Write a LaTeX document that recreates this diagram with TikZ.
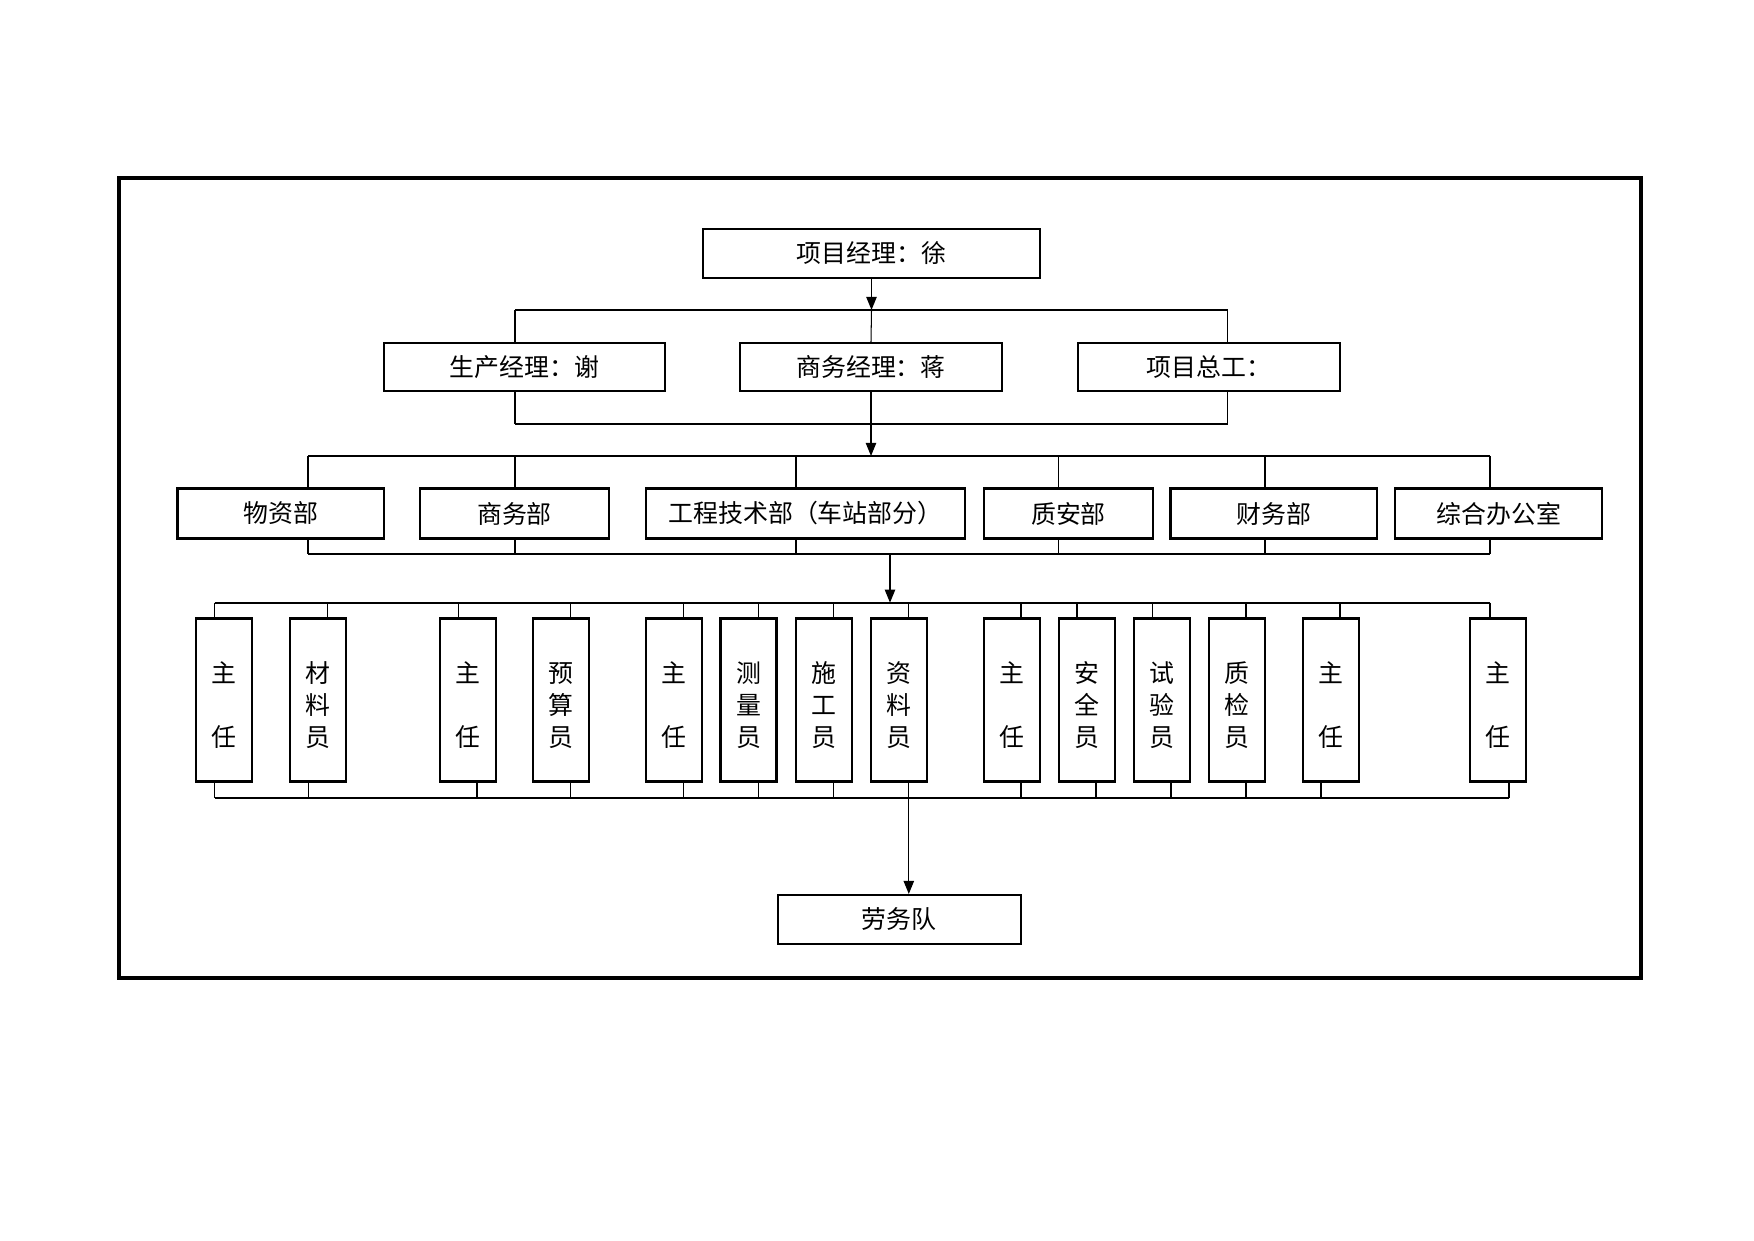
\documentclass[tikz,border=0pt]{standalone}
\usepackage{fontspec}
\setmainfont{Noto Sans CJK SC}
\usetikzlibrary{arrows.meta}
\usetikzlibrary{calc}
\def\pix{0.1693mm}
\tikzset{x=0.1693mm, y=-0.1693mm,
every node/.style={font=\fontsize{12pt}{15.5pt}\selectfont},
box/.style={ % boxes with one line of text
draw, line width=1pt, inner sep=0pt,
minimum height=49*\pix},
post/.style={ % tall boxes, text set upright
draw, line width=1pt, inner sep=0pt, align=center,
minimum width=56*\pix, minimum height=163*\pix},
link/.style={line width=0.5pt}, % thin drops
bus/.style={line width=1pt}, % heavy horizontal lines
down/.style={line width=0.6pt, -{Triangle[length=6.3pt,width=5pt]}}}

\begin{document}
\begin{tikzpicture}
\useasboundingbox (0,0) rectangle (1754,1241);
\draw[line width=1.5pt] (119,178) rectangle (1641,978);

% managers
\node[box, minimum width=337*\pix] (pm) at (871.5,253.5) {项目经理：徐};
\node[box, minimum width=281*\pix, minimum height=48*\pix] (prod) at (524.5,367) {生产经理：谢};
\node[box, minimum width=262*\pix, minimum height=48*\pix] (biz) at (871,367) {商务经理：蒋};
\node[box, minimum width=262*\pix, minimum height=48*\pix] (chief) at (1209,367) {项目总工：};

\coordinate (b2l) at (515,310);
\coordinate (b2r) at (1227.6,310);
\coordinate (b2bl) at (515,424);
\coordinate (b2br) at (1227.6,424);
\draw[down] (pm.south) -- (pm.south |- b2l);
\draw[link] (b2l) -- (b2r);
\draw[link] (b2l) -- (b2l |- prod.north);
\draw[link] (pm.south |- b2l) -- (biz.north);
\draw[link] (b2r) -- (b2r |- chief.north);
\draw[link] (b2l |- prod.south) -- (b2bl);
\draw[link] (b2r |- chief.south) -- (b2br);
\draw[bus] (b2bl) -- (b2br);

% departments
\node[box, minimum width=206.5*\pix, minimum height=50*\pix] (wz) at (280.75,513.5) {物资部};
\node[box, minimum width=189*\pix, minimum height=50*\pix] (sw) at (514.5,513.5) {商务部};
\node[box, minimum width=319*\pix, minimum height=50*\pix] (gc) at (805.5,513.5) {工程技术部（车站部分）};
\node[box, minimum width=169*\pix, minimum height=50*\pix] (za) at (1068.5,513.5) {质安部};
\node[box, minimum width=206.5*\pix, minimum height=50*\pix] (cw) at (1273.75,513.5) {财务部};
\node[box, minimum width=206.6*\pix, minimum height=50*\pix] (zh) at (1498.7,513.5) {综合办公室};

\coordinate (b3l) at (308,456);
\coordinate (b3r) at (1490,456);
\coordinate (b3bl) at (308,553.7);
\coordinate (b3br) at (1490,553.7);
\draw[down] (biz.south) -- (biz.south |- b3l);
\draw[link] (b3l) -- (b3r);
\draw[bus] (b3bl) -- (b3br);
\foreach \n/\dx in {wz/308, sw/515, gc/796, za/1058.7, cw/1265, zh/1490}{
  \coordinate (dx) at (\dx,0);
  \draw[link] (dx |- b3l) -- (dx |- \n.north);
  \draw[link] (dx |- \n.south) -- (dx |- b3bl);
}

% posts
\coordinate (b4l) at (214.8,602.7);
\coordinate (b4r) at (1490,602.7);
\coordinate (b4bl) at (214.8,797.7);
\coordinate (b4br) at (1509,797.7);
\coordinate (hub) at (890,553.7);
\draw[down] (hub) -- (hub |- b4l);
\draw[bus] (b4l) -- (b4r);
\draw[bus] (b4bl) -- (b4br);
\foreach \n/\cx/\tx/\bx/\txt in {
  wzzr/224/214.8/214.8/{主\\[15pt]任},
  cly/318/327.3/308.4/{材\\料\\员},
  swzr/468.4/458.8/477/{主\\[15pt]任},
  ysy/561.4/570.7/570.7/{预\\算\\员},
  gczr/674/683.8/683.8/{主\\[15pt]任},
  cely/748.5/758.4/758.4/{测\\量\\员},
  sgy/823.7/833.6/833.6/{施\\工\\员},
  zly/899/908.8/908.8/{资\\料\\员},
  zazr/1011.8/1021/1021/{主\\[15pt]任},
  aqy/1086.7/1077/1096/{安\\全\\员},
  syy/1161.7/1152.7/1171/{试\\验\\员},
  zjy/1236.6/1246/1246/{质\\检\\员},
  cwzr/1330.6/1340/1321/{主\\[15pt]任},
  zhzr/1498.4/1490/1509/{主\\[15pt]任}}{
  \node[post] (\n) at (\cx,700) {\rule{0pt}{15pt}\txt};
  \coordinate (tx) at (\tx,0);
  \coordinate (bx) at (\bx,0);
  \draw[link] (tx |- b4l) -- (tx |- \n.north);
  \draw[link] (bx |- \n.south) -- (bx |- b4bl);
}

% labour team
\node[box, minimum width=242.7*\pix] (lw) at (899.35,919.5) {劳务队};
\coordinate (lx) at (908.8,0);
\draw[down] (lx |- zly.south) -- (lx |- lw.north);
\end{tikzpicture}
\end{document}
